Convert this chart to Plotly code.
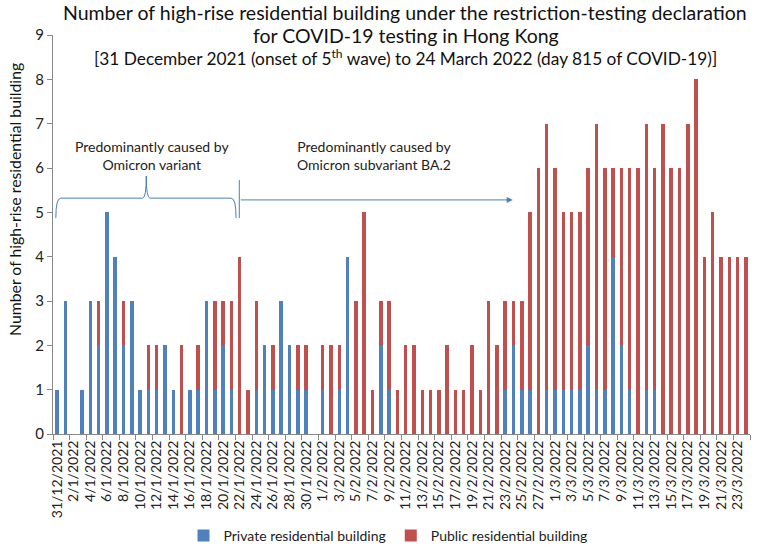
import plotly.graph_objects as go
import datetime as dt

# ---- data ----
start = dt.date(2021, 12, 31)
dates = [start + dt.timedelta(days=i) for i in range(84)]
categories = [f"{d.day}/{d.month}/{d.year}" for d in dates]

private = [1, 3, 0, 1, 3, 2, 5, 4, 2, 3,
           1, 1, 1, 2, 1, 0, 1, 1, 3, 1,
           2, 1, 0, 0, 1, 2, 1, 3, 2, 1,
           1, 0, 1, 0, 1, 4, 0, 0, 0, 2,
           1, 0, 0, 0, 0, 0, 0, 0, 0, 0,
           0, 0, 0, 0, 1, 2, 1, 1, 0, 1,
           1, 1, 1, 1, 2, 1, 1, 4, 2, 1,
           0, 1, 1, 0, 0, 0, 0, 0, 0, 0,
           0, 0, 0, 0]
public = [0, 0, 0, 0, 0, 1, 0, 0, 1, 0,
          0, 1, 1, 0, 0, 2, 0, 1, 0, 2,
          1, 2, 4, 1, 2, 0, 1, 0, 0, 1,
          1, 0, 1, 2, 1, 0, 3, 5, 1, 1,
          2, 1, 2, 2, 1, 1, 1, 2, 1, 1,
          2, 1, 3, 2, 2, 1, 2, 4, 6, 6,
          5, 4, 4, 4, 4, 6, 5, 2, 4, 5,
          6, 6, 5, 7, 6, 6, 7, 8, 4, 5,
          4, 4, 4, 4]

title_lines = [
    "Number of high-rise residential building under the restriction-testing declaration",
    "for COVID-19 testing in Hong Kong",
    "[31 December 2021 (onset of 5<sup>th</sup> wave) to 24 March 2022 (day 815 of COVID-19)]",
]
y_title = "Number of high-rise residential building"
note_omicron = "Predominantly caused by<br>Omicron variant"
note_ba2 = "Predominantly caused by<br>Omicron subvariant BA.2"

BLUE = "#4F81BD"
RED = "#C0504D"
LINE = "#4A7EBB"
FONT = "Lato"
N = len(categories)
YMAX = 9
W, H = 764, 545
ML, MR, MT, MB = 53, 14, 35, 111
PW, PH = W - ML - MR, H - MT - MB


def px(i):  # category index -> x-domain fraction
    return (i + 0.5) / N


def py(v):  # value -> y-domain fraction
    return v / YMAX


def pix_y(y):  # page pixel row -> paper y
    return (H - MB - y) / PH


def pix_x(x):  # page pixel col -> paper x
    return (x - ML) / PW


fig = go.Figure()
fig.add_trace(go.Bar(x=categories, y=private, name="Private residential building",
                     marker=dict(color=BLUE, line=dict(width=0))))
fig.add_trace(go.Bar(x=categories, y=public, name="Public residential building",
                     marker=dict(color=RED, line=dict(width=0))))

# brace over the Omicron period
bl, br, bt = -0.16, 21.56, 10.74
yh, yb, ytip = 5.32, 4.87, 5.82
path = (f"M {px(bl)},{py(yb)} Q {px(bl)},{py(yh)} {px(bl+0.6)},{py(yh)} "
        f"L {px(bt-0.45)},{py(yh)} Q {px(bt)},{py(yh)} {px(bt)},{py(ytip)} "
        f"Q {px(bt)},{py(yh)} {px(bt+0.45)},{py(yh)} "
        f"L {px(br-0.6)},{py(yh)} Q {px(br)},{py(yh)} {px(br)},{py(yb)}")
shapes = [
    dict(type="path", xref="paper", yref="paper", path=path,
         line=dict(color=LINE, width=1)),
    dict(type="line", xref="paper", yref="paper", x0=px(21.95), x1=px(21.95),
         y0=py(4.87), y1=py(5.73), line=dict(color=LINE, width=1)),
]

annotations = [
    dict(xref="x domain", yref="y domain", x=px(54.9), y=py(5.28),
         ax=px(21.95), ay=py(5.28), axref="x domain", ayref="y domain",
         text="", showarrow=True, arrowhead=2,
         arrowsize=1.2, arrowwidth=1, arrowcolor=LINE, standoff=0, startstandoff=0),
    dict(xref="paper", yref="paper", x=px(11.4), y=py(5.84), text=note_omicron,
         showarrow=False, xanchor="center", yanchor="bottom",
         font=dict(family=FONT, size=14, color="#222")),
    dict(xref="paper", yref="paper", x=px(38.2), y=py(5.84), text=note_ba2,
         showarrow=False, xanchor="center", yanchor="bottom",
         font=dict(family=FONT, size=14, color="#222")),
    dict(xref="paper", yref="paper", x=pix_x(405), y=pix_y(13), text=title_lines[0],
         showarrow=False, xanchor="center", yanchor="middle",
         font=dict(family=FONT, size=19.5, color="#111")),
    dict(xref="paper", yref="paper", x=pix_x(406), y=pix_y(35), text=title_lines[1],
         showarrow=False, xanchor="center", yanchor="middle",
         font=dict(family=FONT, size=19.5, color="#111")),
    dict(xref="paper", yref="paper", x=pix_x(405), y=pix_y(57), text=title_lines[2],
         showarrow=False, xanchor="center", yanchor="middle",
         font=dict(family=FONT, size=17.3, color="#111")),
    dict(xref="paper", yref="paper", x=pix_x(14), y=pix_y(200), text=y_title,
         textangle=-90, showarrow=False, xanchor="center", yanchor="middle",
         font=dict(family=FONT, size=15.8, color="#111")),
]

fig.update_layout(
    width=W, height=H,
    margin=dict(l=ML, r=MR, t=MT, b=MB, pad=0, autoexpand=False),
    paper_bgcolor="white", plot_bgcolor="white",
    barmode="stack", bargap=0.58,
    font=dict(family=FONT, size=14, color="#222"),
    showlegend=True,
    legend=dict(orientation="h", x=pix_x(388), xanchor="center", yref="paper",
                y=pix_y(536), yanchor="middle", font=dict(family=FONT, size=14),
                traceorder="normal", bgcolor="rgba(0,0,0,0)"),
    shapes=shapes,
    annotations=annotations,
)
fig.update_xaxes(type="category", categoryorder="array", categoryarray=categories,
                 tickmode="linear", tick0=0, dtick=2, tickangle=-90,
                 ticks="outside", ticklen=5, tickcolor="#888", tickson="boundaries",
                 showline=True, linecolor="#888", linewidth=1, showgrid=False,
                 tickfont=dict(family=FONT, size=14, color="#222"),
                 range=[-0.5, N - 0.5], automargin=False)
fig.update_yaxes(range=[0, YMAX], tickmode="linear", tick0=0, dtick=1,
                 ticks="outside", ticklen=5, tickcolor="#888",
                 showline=True, linecolor="#888", linewidth=1, showgrid=False,
                 zeroline=False, tickfont=dict(family=FONT, size=15, color="#222"),
                 automargin=False)

fig.write_html("out.html", config={"displayModeBar": False},
               post_script="document.body.style.margin='0';")
